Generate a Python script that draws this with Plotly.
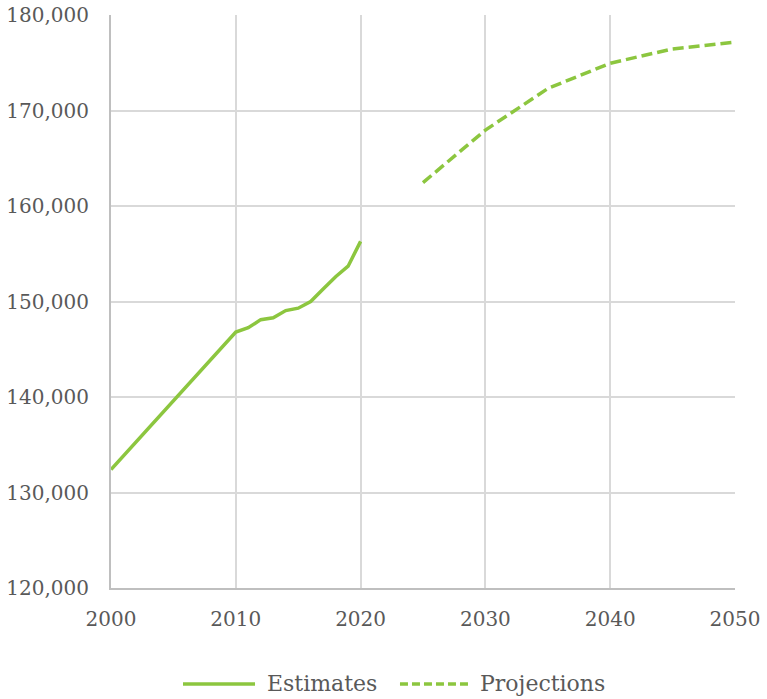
import plotly.graph_objects as go

# Annual population estimates
est_years = list(range(2000, 2021))
est_values = [132400, 133850, 135300, 136750, 138200, 139650, 141050, 142500,
              143950, 145400, 146800, 147250, 148100, 148300, 149050, 149300,
              150000, 151300, 152600, 153700, 156300]

# Five-year population projections
proj_years = [2025, 2030, 2035, 2040, 2045, 2050]
proj_values = [162450, 167950, 172300, 174950, 176450, 177150]

x_ticks = [2000, 2010, 2020, 2030, 2040, 2050]
y_ticks = [120000, 130000, 140000, 150000, 160000, 170000, 180000]

series_names = ["Estimates", "Projections"]

GREEN = "#8CC63F"
TEXT = "#595959"
FONT = "DejaVu Serif"
PLOT_DASH = "11px,5px"
KEY_DASH = "8px,4px"

fig = go.Figure()
fig.add_trace(go.Scatter(
    x=est_years, y=est_values, mode="lines", name=series_names[0],
    line=dict(color=GREEN, width=3.5), showlegend=False,
))
fig.add_trace(go.Scatter(
    x=proj_years, y=proj_values, mode="lines", name=series_names[1],
    line=dict(color=GREEN, width=3.5, dash=PLOT_DASH), showlegend=False,
))

# Key below the plot: a line sample followed by its label for each series
key_y = -0.1675
key_items = [
    (series_names[0], 0.1154, 0.2308, 0.2479, "solid"),
    (series_names[1], 0.4631, 0.5769, 0.5897, KEY_DASH),
]
for label, x0, x1, xt, dash in key_items:
    fig.add_shape(
        type="line", xref="paper", yref="paper",
        x0=x0, x1=x1, y0=key_y, y1=key_y,
        line=dict(color=GREEN, width=3.5, dash=dash),
    )
    fig.add_annotation(
        xref="paper", yref="paper", x=xt, y=key_y,
        xanchor="left", yanchor="middle", showarrow=False,
        text=label, font=dict(family=FONT, size=22, color=TEXT),
        borderpad=0,
    )

fig.update_layout(
    width=767, height=699,
    margin=dict(l=111, r=32, t=15, b=111),
    paper_bgcolor="white", plot_bgcolor="white",
    font=dict(family=FONT, size=20, color=TEXT),
    showlegend=False,
    xaxis=dict(
        range=[2000, 2050], tickvals=x_ticks, ticktext=[str(v) for v in x_ticks],
        showgrid=True, gridcolor="#D9D9D9", gridwidth=2,
        showline=True, linecolor="#BFBFBF", linewidth=2,
        zeroline=False, ticks="", ticklabelstandoff=12, automargin=False,
    ),
    yaxis=dict(
        range=[120000, 180000], tickvals=y_ticks,
        ticktext=[f"{v:,}" for v in y_ticks],
        showgrid=True, gridcolor="#D9D9D9", gridwidth=2,
        showline=True, linecolor="#BFBFBF", linewidth=2,
        zeroline=False, ticks="", ticklabelstandoff=16, automargin=False,
    ),
)

fig.write_html("out.html")
